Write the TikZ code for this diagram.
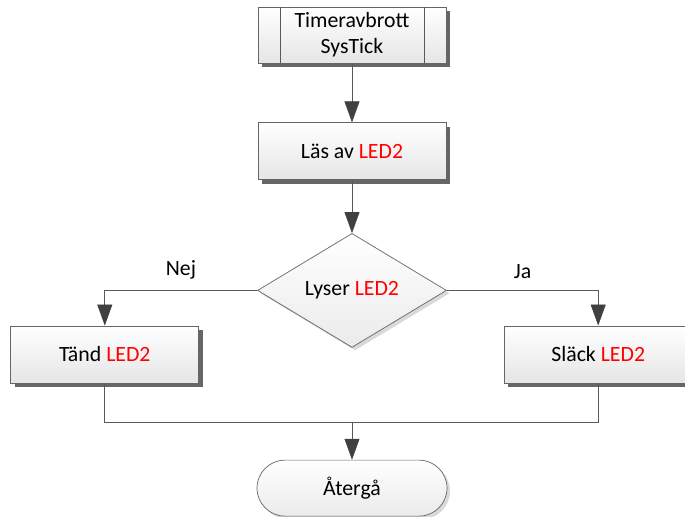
\documentclass[tikz,border=0pt]{standalone}
\usepackage{fontspec}
\setmainfont{Carlito}
\usepackage{xcolor}
\usetikzlibrary{shapes.geometric,arrows.meta,positioning,calc,shadows}
\tikzstyle{PROCESS} = [rectangle, draw=black!60, top color=white, bottom color=black!10, minimum width=3.76cm, minimum height=1.14cm, text centered, align=center, drop shadow={shadow xshift=0.08cm, shadow yshift=-0.08cm, fill=black!60, opacity=1}]
\tikzstyle{PREDEF} = [PROCESS, minimum height=1.12cm]
\tikzstyle{DECISION} = [diamond, draw=black!60, top color=white, bottom color=black!8, aspect=1.66, minimum width=3.78cm, minimum height=2.28cm, inner sep=0pt, drop shadow={shadow xshift=0.06cm, shadow yshift=-0.06cm, fill=black!15, opacity=1}]
\tikzstyle{TERMINAL} = [rectangle, rounded corners=0.56cm, draw=black!60, top color=white, bottom color=black!8, minimum width=3.8cm, minimum height=1.12cm, drop shadow={shadow xshift=0.06cm, shadow yshift=-0.06cm, fill=black!15, opacity=1}]
\tikzstyle{LINE} = [draw=black!65, -{Triangle[length=0.42cm, width=0.3cm, color=black!75]}]
\tikzstyle{PLAIN} = [draw=black!65]

\begin{document}
\begin{tikzpicture}[node distance = 2cm, auto, font=\fontsize{12.4}{14.6}\selectfont]
\useasboundingbox (0,0) rectangle (13.7,-10.34);
\clip (0,0) rectangle (13.7,-10.34);
% Place node
\node [PREDEF] (START) at (7.04,-0.70) {Timeravbrott\\ SysTick};
\node [PROCESS, below=1.18cm of START] (READ) {Läs av \textcolor{red}{LED2}};
\node [DECISION, below=1.06cm of READ] (COND) {Lyser \textcolor{red}{LED2}};
\node [PROCESS, left=1.16cm of COND, yshift=-1.28cm] (ON) {Tänd \textcolor{red}{LED2}};
\node [PROCESS, right=1.14cm of COND, yshift=-1.28cm] (OFF) {Släck \textcolor{red}{LED2}};
\node [TERMINAL, below=2.24cm of COND] (END) {Återgå};
\coordinate [above=0.74cm of END] (MERGE);
% inner lines of the start box
\path [PLAIN] ($(START.north west)+(0.46,0)$) -- ($(START.south west)+(0.46,0)$);
\path [PLAIN] ($(START.north east)+(-0.44,0)$) -- ($(START.south east)+(-0.44,0)$);
% LINES and ARROWS
\path [LINE] (START) -- (READ);
\path [LINE] (READ) -- (COND);
\path [LINE] (COND.west) -| node [pos=0.25, above=3pt] {Nej} (ON.north);
\path [LINE] (COND.east) -| node [pos=0.25, above=3pt] {Ja} (OFF.north);
\path [PLAIN] (ON.south) |- (MERGE) -| (OFF.south);
\path [LINE] (MERGE) -- (END);
\end{tikzpicture}
\end{document}
